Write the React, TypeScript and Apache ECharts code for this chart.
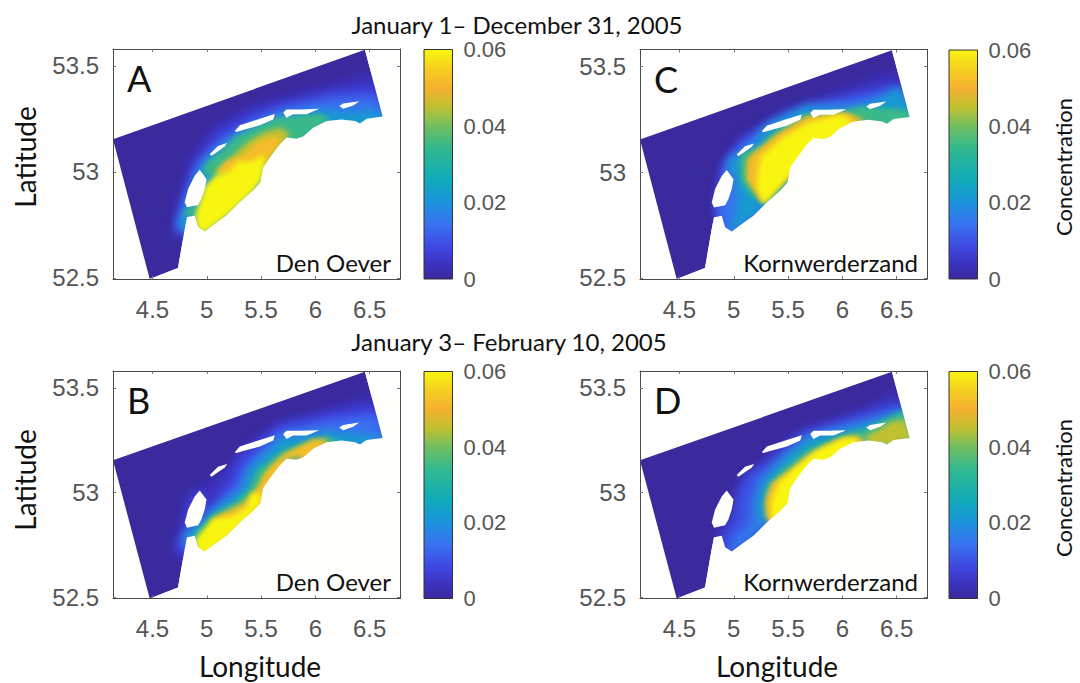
import React, { useEffect, useRef } from "react";
import * as echarts from "echarts";

type P = number[];
const tickLon = [4.5, 5, 5.5, 6, 6.5];
const tickLat = [52.5, 53, 53.5];
const tickConc = [0, 0.02, 0.04, 0.06];
const colorStops: [number, string][] = [
  [0, "#3a2a9e"], [0.004, "#3c33c0"], [0.008, "#3f45e0"], [0.014, "#3a70f0"], [0.02, "#1b92dc"],
  [0.026, "#10abb8"], [0.034, "#30b890"], [0.04, "#70bf60"], [0.045, "#c0c030"], [0.05, "#f5b030"],
  [0.055, "#f5d020"], [0.06, "#f8f510"],
];

const coast: P[] = [
  [6.457, 53.577], [6.62, 53.261], [6.472, 53.251], [6.411, 53.229], [6.365, 53.24], [6.242, 53.248],
  [6.103, 53.24], [5.98, 53.209], [5.888, 53.167], [5.827, 53.157], [5.735, 53.162], [5.673, 53.131],
  [5.581, 53.068], [5.519, 53.021], [5.495, 52.951], [5.427, 52.912], [5.304, 52.857], [5.181, 52.794],
  [5.074, 52.755], [4.981, 52.719], [4.92, 52.74], [4.889, 52.794], [4.858, 52.791], [4.818, 52.787],
  [4.797, 52.732], [4.735, 52.547], [4.474, 52.495],
];
const nwCorner: P = [4.136, 53.154];
const islands: P[][] = [
  [[4.935, 53.01], [4.997, 52.967], [4.981, 52.92], [4.951, 52.873], [4.92, 52.844], [4.818, 52.833], [4.797, 52.857], [4.828, 52.92], [4.889, 52.982]],
  [[5.027, 53.084], [5.104, 53.123], [5.187, 53.136], [5.166, 53.12], [5.089, 53.092], [5.043, 53.076]],
  [[5.258, 53.193], [5.304, 53.22], [5.489, 53.251], [5.627, 53.273], [5.612, 53.248], [5.489, 53.22], [5.335, 53.198], [5.273, 53.189]],
  [[5.704, 53.28], [5.734, 53.295], [5.857, 53.295], [6.036, 53.298], [5.919, 53.272], [5.796, 53.272], [5.734, 53.256]],
  [[6.22, 53.311], [6.257, 53.323], [6.405, 53.334], [6.349, 53.314], [6.257, 53.298]],
];
const shore: P[] = [[6.657, 53.233], [5.857, 53.092], [5.55, 52.967], [5.243, 52.81], [4.935, 52.685]];
const shoreSouth: P[] = [[5.857, 53.092], [5.55, 52.967], [5.243, 52.81], [4.95, 52.72]];

type Contour = [number, P[]];
const contoursA: Contour[] = [
  [0.004, [[4.674, 52.685], [4.735, 52.873], [4.843, 53.06], [5.058, 53.217], [5.396, 53.311], [5.734, 53.358], [6.165, 53.42], [6.518, 53.467], ...shore]],
  [0.008, [[4.705, 52.724], [4.782, 52.873], [4.874, 53.029], [5.089, 53.178], [5.396, 53.272], [5.734, 53.326], [6.165, 53.373], [6.549, 53.405], ...shore]],
  [0.014, [[4.714, 52.74], [4.797, 52.857], [4.935, 53.045], [5.15, 53.154], [5.458, 53.248], [5.704, 53.303], [6.165, 53.35], [6.58, 53.358], ...shore]],
  [0.022, [[4.735, 52.747], [4.782, 52.802], [4.92, 53.006], [5.027, 53.076], [5.273, 53.178], [5.673, 53.267], [6.011, 53.292], [6.226, 53.287], [6.626, 53.287], ...shore]],
  [0.035, [[4.966, 52.99], [4.997, 53.045], [5.15, 53.107], [5.273, 53.17], [5.642, 53.256], [6.042, 53.276], [6.134, 53.251], [6.011, 53.201], [5.857, 53.139], [5.673, 53.1], [5.396, 53.029], [5.089, 52.982]]],
  [0.035, [[4.782, 52.794], [4.818, 52.829], [4.889, 52.834], [4.935, 52.849], [4.905, 52.81], [4.843, 52.794]]],
  [0.045, [[5.074, 52.998], [5.243, 53.076], [5.366, 53.139], [5.519, 53.186], [5.673, 53.209], [5.765, 53.186], [5.704, 53.123], [5.519, 53.021], [5.304, 52.967]]],
  [0.052, [[5.089, 52.998], [5.181, 53.053], [5.335, 53.076], [5.458, 53.139], [5.612, 53.17], [5.688, 53.154], [5.642, 53.107], [5.489, 53.014], [5.304, 52.998], [5.181, 52.982]]],
  [0.06, [[4.889, 52.794], [4.981, 52.935], [5.089, 52.99], [5.197, 52.998], [5.304, 53.053], [5.396, 53.045], [5.535, 53.084], [5.519, 52.967], [5.427, 52.904], [5.181, 52.787], [4.981, 52.708], [4.905, 52.732]]],
];
const contoursB: Contour[] = [
  [0.004, [[4.674, 52.69], [4.735, 52.769], [4.797, 52.991], [5.027, 53.046], [5.243, 53.149], [5.642, 53.339], [6.165, 53.411], [6.518, 53.466], ...shore]],
  [0.008, [[4.695, 52.737], [4.782, 52.817], [4.828, 52.912], [4.905, 53.015], [5.027, 52.927], [5.227, 53.086], [5.304, 53.181], [5.673, 53.323], [6.165, 53.379], [6.549, 53.411], ...shore]],
  [0.014, [[4.751, 52.753], [4.843, 52.817], [4.935, 52.848], [5.089, 52.927], [5.273, 53.038], [5.366, 53.133], [5.673, 53.292], [6.165, 53.347], [6.58, 53.371], ...shore]],
  [0.022, [[4.782, 52.793], [5.058, 52.919], [5.335, 53.022], [5.366, 53.102], [5.489, 53.165], [5.704, 53.268], [6.134, 53.292], [6.626, 53.268], ...shore]],
  [0.035, [[4.889, 52.809], [5.058, 52.896], [5.273, 52.959], [5.396, 53.022], [5.458, 53.102], [5.704, 53.205], [6.103, 53.268], [6.226, 53.244], [6.011, 53.149], ...shoreSouth]],
  [0.045, [[5.027, 52.864], [5.181, 52.912], [5.304, 52.943], [5.458, 53.007], [5.519, 53.086], [5.673, 53.165], [5.98, 53.257], [6.119, 53.257], [6.0, 53.17], ...shoreSouth]],
  [0.052, [[5.074, 52.88], [5.243, 52.912], [5.366, 52.951], [5.489, 53.038], [5.581, 53.117], [5.734, 53.189], [5.98, 53.244], [6.103, 53.244], [6.0, 53.17], ...shoreSouth]],
  [0.03, [[5.688, 53.149], [5.857, 53.173], [5.873, 53.157], [5.734, 53.146]]],
  [0.06, [[4.889, 52.777], [5.058, 52.872], [5.243, 52.888], [5.366, 52.927], [5.412, 52.999], [5.504, 52.991], [5.489, 52.943], [5.427, 52.904], [5.181, 52.785], [4.981, 52.698], [4.905, 52.721]]],
];
const contoursC: Contour[] = [
  [0.004, [[4.825, 52.81], [4.886, 53.045], [5.07, 53.17], [5.409, 53.28], [5.716, 53.342], [6.146, 53.42], [6.485, 53.475], ...shore]],
  [0.008, [[4.837, 52.826], [4.901, 53.029], [5.07, 53.154], [5.409, 53.248], [5.716, 53.311], [6.146, 53.373], [6.515, 53.42], ...shore]],
  [0.014, [[4.84, 52.826], [4.932, 53.053], [5.132, 53.154], [5.439, 53.264], [5.716, 53.319], [6.146, 53.35], [6.546, 53.397], ...shore]],
  [0.022, [[5.009, 52.81], [5.04, 52.888], [5.009, 52.967], [4.932, 53.045], [5.193, 53.139], [5.286, 53.217], [5.655, 53.311], [6.085, 53.303], [6.331, 53.342], [6.515, 53.405], [6.623, 53.326], ...shore]],
  [0.035, [[5.055, 53.029], [5.07, 53.092], [5.255, 53.123], [5.347, 53.186], [5.655, 53.272], [6.024, 53.287], [6.146, 53.311], [6.392, 53.303], [6.608, 53.295], [6.657, 53.233], [5.857, 53.092], [5.55, 52.967], [5.3, 52.85], [5.163, 52.888], [5.07, 52.951]]],
  [0.047, [[5.117, 53.06], [5.163, 53.084], [5.378, 53.17], [5.67, 53.264], [6.024, 53.283], [6.208, 53.248], [6.1, 53.2], [5.857, 53.139], [5.55, 52.998], [5.255, 52.857], [5.178, 52.92], [5.117, 52.967]]],
  [0.052, [[5.147, 53.053], [5.209, 53.092], [5.439, 53.186], [5.685, 53.256], [6.024, 53.276], [6.146, 53.248], [5.839, 53.139], [5.532, 52.998], [5.27, 52.857], [5.193, 52.92], [5.132, 52.967]]],
  [0.06, [[5.27, 52.857], [5.209, 52.935], [5.224, 52.998], [5.255, 53.076], [5.47, 53.17], [5.685, 53.233], [5.962, 53.272], [6.054, 53.256], [6.085, 53.233], [5.9, 53.154], [5.532, 52.998], [5.285, 52.849]]],
];
const contoursD: Contour[] = [
  [0.005, [[4.84, 52.793], [4.978, 52.912], [5.04, 53.054], [5.193, 53.117], [5.286, 53.165], [5.624, 53.308], [6.146, 53.387], [6.5, 53.474], ...shore]],
  [0.01, [[4.886, 52.777], [5.009, 52.864], [5.04, 52.991], [5.132, 53.086], [5.286, 53.133], [5.655, 53.284], [6.146, 53.363], [6.546, 53.426], ...shore]],
  [0.016, [[5.009, 52.785], [5.132, 52.848], [5.163, 52.959], [5.224, 53.07], [5.347, 53.117], [5.655, 53.268], [6.146, 53.339], [6.561, 53.387], ...shore]],
  [0.024, [[5.24, 52.88], [5.224, 52.959], [5.286, 53.054], [5.439, 53.149], [5.716, 53.26], [6.085, 53.3], [6.331, 53.339], [6.546, 53.395], [6.623, 53.387], [6.657, 53.233], [5.857, 53.092], [5.55, 52.967], [5.3, 52.85]]],
  [0.035, [[5.286, 52.912], [5.301, 53.022], [5.439, 53.102], [5.685, 53.205], [6.054, 53.284], [6.208, 53.3], [6.454, 53.363], [6.561, 53.387], [6.638, 53.339], [6.657, 53.233], [5.857, 53.092], [5.55, 52.967], [5.33, 52.86]]],
  [0.045, [[6.208, 53.268], [6.331, 53.3], [6.454, 53.339], [6.577, 53.347], [6.638, 53.26], [6.454, 53.228], [6.269, 53.228]]],
  [0.052, [[5.301, 52.88], [5.286, 52.959], [5.347, 53.046], [5.501, 53.102], [5.685, 53.181], [5.962, 53.257], [6.116, 53.273], [6.223, 53.247], [5.857, 53.092], [5.55, 52.967], [5.36, 52.84]]],
  [0.06, [[5.347, 52.896], [5.347, 52.959], [5.424, 53.054], [5.562, 53.117], [5.777, 53.205], [6.024, 53.26], [6.146, 53.257], [6.103, 53.212], [5.857, 53.092], [5.55, 52.967], [5.36, 52.84]]],
];

const panelLetters = ["A", "B", "C", "D"];
const panelSites = ["Den Oever", "Den Oever", "Kornwerderzand", "Kornwerderzand"];
const periodTitles = ["January 1– December 31, 2005", "January 3– February 10, 2005"];
const panelContours = [contoursA, contoursB, contoursC, contoursD];

const xMin = 4.136, xMax = 6.78, yMin = 52.495, yMax = 53.58;
const concMax = 0.06;
const frames = [
  { l: 113, r: 400, t: 49, b: 279, cl: 424, cr: 452.5 },
  { l: 113, r: 400, t: 371, b: 598.5, cl: 424, cr: 452.5 },
  { l: 640, r: 927, t: 49.5, b: 279, cl: 949, cr: 977.5 },
  { l: 640, r: 927, t: 371, b: 598.5, cl: 949, cr: 977.5 },
];
const W = 1080, H = 683;
const TICK = "Liberation Sans";
const TEXT = "Lato";
const MASK = "#fffffe";

const hex = (h: string) => [1, 3, 5].map((i) => parseInt(h.slice(i, i + 2), 16));
function colorOf(v: number) {
  for (let i = 1; i < colorStops.length; i++) {
    const [v0, c0] = colorStops[i - 1];
    const [v1, c1] = colorStops[i];
    if (v <= v1) {
      const t = (v - v0) / (v1 - v0);
      const a = hex(c0), b = hex(c1);
      return `rgb(${a.map((x, k) => Math.round(x + (b[k] - x) * t)).join(",")})`;
    }
  }
  return "rgb(248,245,16)";
}

type Layer = { fill: string; pts: P[] };
function layersFor(cs: Contour[]): Layer[] {
  const domain: Layer = { fill: "#3a2a9e", pts: [nwCorner, ...coast] };
  const land: Layer = { fill: MASK, pts: [...coast, [xMax, yMin], [xMax, yMax], [6.457, yMax]] };
  const contourLayers = cs.map(([v, pts]) => ({ fill: colorOf(v), pts }));
  const isl = islands.map((pts) => ({ fill: MASK, pts }));
  return [domain, ...contourLayers, land, ...isl];
}

function softenFills(root: HTMLElement) {
  const levels = new Set<number>();
  panelContours.forEach((cs) => cs.forEach(([v]) => levels.add(v)));
  const blurOf = new Map<string, string>();
  levels.forEach((v) => blurOf.set(colorOf(v), v < 0.025 ? "blur(5px)" : "blur(2.5px)"));
  root.querySelectorAll("path").forEach((el) => {
    const fill = el.getAttribute("fill") || "";
    const b = blurOf.get(fill);
    if (b) (el as any).style.filter = b;
    if (fill === MASK) (el as any).style.filter = "blur(0.7px)";
  });
}

function buildOption() {
  const grid: any[] = [], xAxis: any[] = [], yAxis: any[] = [], series: any[] = [], graphic: any[] = [];
  const axisCommon = { axisLine: { show: true, lineStyle: { color: "#4a4a4a", width: 1 } }, splitLine: { show: false } };
  frames.forEach((f, p) => {
    const isRight = p >= 2, isBottom = p % 2 === 1;
    const g = grid.length;
    grid.push({ left: f.l, top: f.t, width: f.r - f.l, height: f.b - f.t });
    const xi = xAxis.length, yi = yAxis.length;
    const tick = (vals: number[]) => ({ show: true, inside: true, length: 3, customValues: vals, lineStyle: { color: "#777" } });
    xAxis.push({
      type: "value", gridIndex: g, min: xMin, max: xMax, position: "bottom", z: 5, ...axisCommon,
      axisTick: tick(tickLon),
      axisLabel: { show: true, customValues: tickLon, margin: 18, fontFamily: TICK, fontSize: 24, color: "#555" },
    });
    xAxis.push({ type: "value", gridIndex: g, min: xMin, max: xMax, position: "top", z: 5, ...axisCommon, axisTick: tick(tickLon), axisLabel: { show: false } });
    yAxis.push({
      type: "value", gridIndex: g, min: yMin, max: yMax, position: "left", z: 5, ...axisCommon,
      axisTick: tick(tickLat),
      axisLabel: { show: true, customValues: tickLat, margin: 14, fontFamily: TICK, fontSize: 24, color: "#555" },
    });
    yAxis.push({ type: "value", gridIndex: g, min: yMin, max: yMax, position: "right", z: 5, ...axisCommon, axisTick: tick(tickLat), axisLabel: { show: false } });
    const layers = layersFor(panelContours[p]);
    series.push({
      type: "custom", xAxisIndex: xi, yAxisIndex: yi, clip: true, silent: true,
      data: layers.map((_, i) => [i]),
      renderItem: (params: any, api: any) => {
        const l = layers[params.dataIndex];
        return { type: "polygon", shape: { points: l.pts.map((q) => api.coord(q)) }, style: { fill: l.fill } };
      },
    });
    const cg = grid.length;
    grid.push({ left: f.cl, top: f.t + 0.5, width: f.cr - f.cl, height: f.b - f.t - 0.5 });
    const cx = xAxis.length, cy = yAxis.length;
    xAxis.push({ type: "value", gridIndex: cg, min: 0, max: 1, show: false });
    yAxis.push({
      type: "value", gridIndex: cg, min: 0, max: concMax, interval: 0.02, position: "right", z: 5,
      axisLine: { show: false }, splitLine: { show: false }, axisTick: { show: false },
      axisLabel: { margin: 11, fontFamily: TICK, fontSize: 22, color: "#555", customValues: tickConc, formatter: (v: number) => String(+v.toFixed(2)) },
    });
    series.push({
      type: "custom", xAxisIndex: cx, yAxisIndex: cy, silent: true, data: [[0, concMax]],
      renderItem: (_: any, api: any) => {
        const a = api.coord([0, 0]), b = api.coord([1, concMax]);
        return {
          type: "rect",
          shape: { x: a[0], y: b[1], width: b[0] - a[0], height: a[1] - b[1] },
          style: {
            stroke: "#333", lineWidth: 1,
            fill: { type: "linear", x: 0, y: 1, x2: 0, y2: 0, colorStops: colorStops.map(([v, color]) => ({ offset: v / concMax, color })) },
          },
        };
      },
    });
    graphic.push({ type: "text", x: f.l + 14, y: f.t + 11, z: 20, style: { text: panelLetters[p], fontFamily: TEXT, fontSize: 36, fill: "#111" } });
    graphic.push({ type: "text", x: f.r - 9, y: f.b - 5, z: 20, style: { text: panelSites[p], fontFamily: TEXT, fontSize: 24, fill: "#111", textAlign: "right", textVerticalAlign: "bottom" } });
    if (isBottom) graphic.push({ type: "text", x: isRight ? 777 : 260, y: 666, z: 20, style: { text: "Longitude", fontFamily: TEXT, fontSize: 28, fill: "#111", textAlign: "center", textVerticalAlign: "middle" } });
    const midY = isBottom ? 480 : 157;
    if (!isRight) graphic.push({ type: "text", x: 25, y: midY, rotation: Math.PI / 2, z: 20, style: { text: "Latitude", fontFamily: TEXT, fontSize: 28, fill: "#111", textAlign: "center", textVerticalAlign: "middle" } });
    else graphic.push({ type: "text", x: 1063, y: isBottom ? 488 : 167, rotation: Math.PI / 2, z: 20, style: { text: "Concentration", fontFamily: TEXT, fontSize: 22, fill: "#111", textAlign: "center", textVerticalAlign: "middle" } });
  });
  graphic.push({ type: "text", x: 517, y: 24.5, z: 20, style: { text: periodTitles[0], fontFamily: TEXT, fontSize: 24, fill: "#111", textAlign: "center", textVerticalAlign: "middle" } });
  graphic.push({ type: "text", x: 509, y: 341, z: 20, style: { text: periodTitles[1], fontFamily: TEXT, fontSize: 24, fill: "#111", textAlign: "center", textVerticalAlign: "middle" } });
  return { animation: false, backgroundColor: "#ffffff", grid, xAxis, yAxis, series, graphic };
}

export default function App() {
  const ref = useRef<HTMLDivElement>(null);
  useEffect(() => {
    document.body.style.margin = "0";
    const chart = echarts.init(ref.current!, undefined, { renderer: "svg" });
    chart.setOption(buildOption() as any);
    softenFills(ref.current!);
    return () => chart.dispose();
  }, []);
  return <div ref={ref} style={{ width: W, height: H }} />;
}
